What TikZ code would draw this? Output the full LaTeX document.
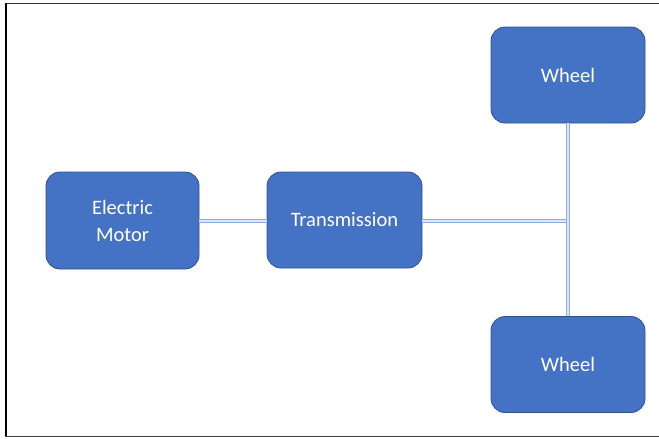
\documentclass[tikz,border=0pt]{standalone}
\usepackage{fontspec}
\setmainfont{Carlito}
\usepackage{tikz}

\definecolor{boxblue}{RGB}{68,114,196}
\definecolor{edgeblue}{RGB}{47,82,143}
\definecolor{linkblue}{RGB}{143,170,220}

\tikzset{
  part/.style={draw=edgeblue,line width=0.8pt,fill=boxblue,rounded corners=14pt,
    text=white,align=center,inner sep=0pt,font=\fontsize{20.5}{27}\selectfont},
  link/.style={draw=linkblue,line width=1.2pt,double=white!70!linkblue,double distance=1.3pt}
}

\begin{document}
\begin{tikzpicture}[x=1pt,y=-1pt]
\useasboundingbox (0,0) rectangle (659,439);

% frame
\draw[line width=1.5pt,black!80] (5,3.5)--(659,3.5);
\draw[line width=2.5pt] (6,3)--(6,437);
\draw[line width=1pt,black!75] (5,436.5)--(659,436.5);

\node[part,minimum width=153pt,minimum height=97pt] (motor) at (122.5,220.5) {Electric\\Motor};
\node[part,minimum width=155pt,minimum height=96pt] (trans) at (344.5,220) {Transmission};
\node[part,minimum width=154pt,minimum height=96pt] (wheelA) at (568,75) {Wheel};
\node[part,minimum width=154pt,minimum height=96pt] (wheelB) at (568,364.5) {Wheel};

\coordinate (axle) at (568,221);

\draw[link] (motor.east |- 0,221) -- (trans.west |- 0,221);
\draw[link] (trans.east |- axle) -- (axle);
\draw[link] (wheelA.south) -- (wheelB.north);

\end{tikzpicture}
\end{document}
